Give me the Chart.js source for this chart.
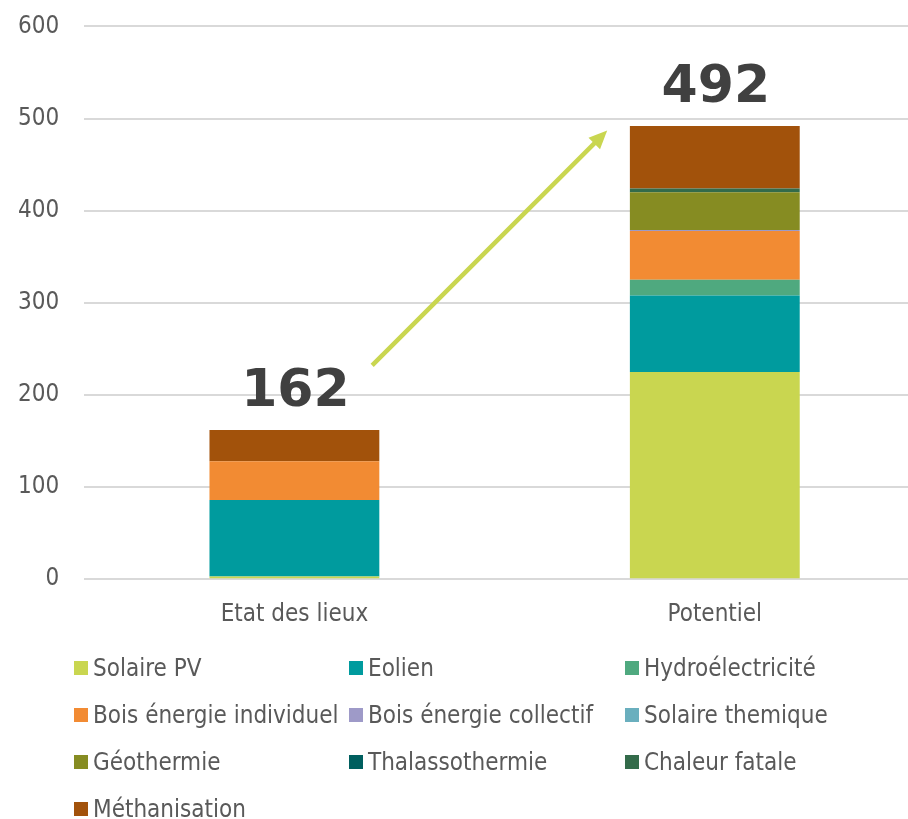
<!DOCTYPE html>
<html>
<head>
<meta charset="utf-8">
<script src="https://cdn.jsdelivr.net/npm/chart.js@4"></script>
<style>
  body { margin: 0; background: #fff; width: 908px; height: 819px; overflow: hidden; position: relative;
         font-family: "DejaVu Sans Condensed", "DejaVu Sans", sans-serif; }
  #wrap { position: absolute; left: -7px; top: -13px; width: 932px; height: 668px; }
  #legend { position: absolute; left: 74px; top: 644px; display: grid;
            grid-template-columns: 275px 276px 260px; grid-auto-rows: 47px; }
  .item { display: flex; align-items: center; font-size: 24px; color: #595959; white-space: nowrap; }
  .box { width: 14px; height: 14px; margin-right: 5px; flex: none; }
</style>
</head>
<body>
<div id="wrap"><canvas id="chart"></canvas></div>
<div id="legend"></div>
<script>
var categories = ['Etat des lieux', 'Potentiel'];
var yTicks = [0, 100, 200, 300, 400, 500, 600];

var seriesNames = ['Solaire PV', 'Eolien', 'Hydroélectricité', 'Bois énergie individuel',
  'Bois énergie collectif', 'Solaire themique', 'Géothermie', 'Thalassothermie',
  'Chaleur fatale', 'Méthanisation'];
var seriesColors = ['#C9D650', '#009B9E', '#4FA97F', '#F28B33', '#9E9AC8',
  '#6AAFBE', '#868C22', '#005F5F', '#336B4A', '#A2520B'];

var solairePV    = [3, 225];
var eolien       = [83, 83];
var hydro        = [0, 17];
var boisIndiv    = [42, 53];
var boisCollectif = [0, 1];
var solaireTherm = [0, 0];
var geothermie   = [0, 41];
var thalasso     = [0, 0];
var chaleurFatale = [0, 4];
var methanisation = [34, 68];

var allSeries = [solairePV, eolien, hydro, boisIndiv, boisCollectif, solaireTherm,
  geothermie, thalasso, chaleurFatale, methanisation];

var totals = categories.map(function (c, i) {
  var s = 0;
  allSeries.forEach(function (arr) { s += arr[i]; });
  return s;
});

var datasets = allSeries.map(function (arr, k) {
  return {
    label: seriesNames[k],
    data: arr,
    backgroundColor: seriesColors[k],
    borderWidth: 0,
    categoryPercentage: 1,
    barPercentage: 0.404
  };
});

// big totals above bars + green arrow
var extras = {
  id: 'extras',
  afterDatasetsDraw: function (chart) {
    var ctx = chart.ctx;
    var x = chart.scales.x, y = chart.scales.y;
    ctx.save();
    ctx.fillStyle = '#404040';
    ctx.font = 'bold 52px "DejaVu Sans", sans-serif';
    ctx.textAlign = 'center';
    ctx.textBaseline = 'alphabetic';
    totals.forEach(function (t, i) {
      ctx.fillText(String(t), x.getPixelForValue(i) + 1, y.getPixelForValue(t) - 24);
    });

    var d = x.getPixelForValue(1) - x.getPixelForValue(0);
    var x0 = x.getPixelForValue(0) + 0.185 * d, y0 = y.getPixelForValue(232);
    var x1 = x.getPixelForValue(1) - 0.256 * d, y1 = y.getPixelForValue(487);
    var ang = Math.atan2(y1 - y0, x1 - x0);
    var head = 20;
    ctx.strokeStyle = '#C9D650';
    ctx.fillStyle = '#C9D650';
    ctx.lineWidth = 4.5;
    ctx.beginPath();
    ctx.moveTo(x0, y0);
    ctx.lineTo(x1 - Math.cos(ang) * head * 0.8, y1 - Math.sin(ang) * head * 0.8);
    ctx.stroke();
    ctx.beginPath();
    ctx.moveTo(x1, y1);
    ctx.lineTo(x1 - head * Math.cos(ang - 0.42), y1 - head * Math.sin(ang - 0.42));
    ctx.lineTo(x1 - head * Math.cos(ang + 0.42), y1 - head * Math.sin(ang + 0.42));
    ctx.closePath();
    ctx.fill();
    ctx.restore();
  }
};

Chart.defaults.font.family = '"DejaVu Sans Condensed", "DejaVu Sans", sans-serif';

new Chart(document.getElementById('chart'), {
  type: 'bar',
  data: { labels: categories, datasets: datasets },
  plugins: [extras],
  options: {
    responsive: true,
    maintainAspectRatio: false,
    animation: false,
    layout: { padding: { top: 12, right: 0, left: 0, bottom: 13 } },
    plugins: { legend: { display: false }, tooltip: { enabled: false } },
    scales: {
      x: {
        stacked: true,
        grid: { display: false },
        border: { display: false },
        ticks: { color: '#595959', font: { size: 24 }, padding: 13 }
      },
      y: {
        stacked: true,
        min: yTicks[0],
        max: yTicks[yTicks.length - 1],
        afterBuildTicks: function (axis) { axis.ticks = yTicks.map(function (v) { return { value: v }; }); },
        grid: { color: '#D9D9D9', lineWidth: 2, drawTicks: false },
        border: { display: false },
        ticks: { color: '#595959', font: { size: 24 }, padding: 25 }
      }
    }
  }
});

var legend = document.getElementById('legend');
seriesNames.forEach(function (name, k) {
  var it = document.createElement('div');
  it.className = 'item';
  var b = document.createElement('span');
  b.className = 'box';
  b.style.background = seriesColors[k];
  it.appendChild(b);
  it.appendChild(document.createTextNode(name));
  legend.appendChild(it);
});
</script>
</body>
</html>
